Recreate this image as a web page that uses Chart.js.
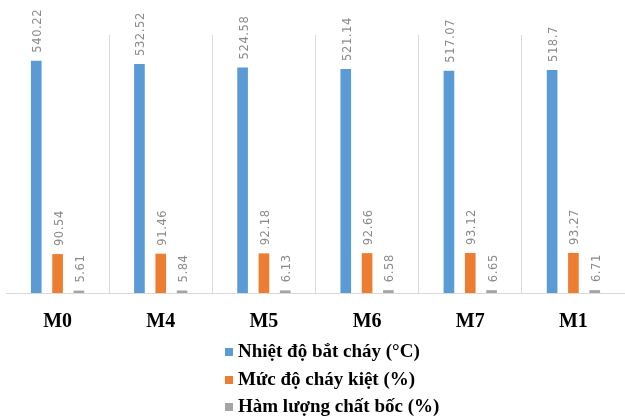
<!DOCTYPE html>
<html>
<head>
<meta charset="utf-8">
<style>
  html, body { margin: 0; padding: 0; background: #ffffff; }
  #wrap { width: 625px; height: 418px; position: relative; }
</style>
<script src="https://cdn.jsdelivr.net/npm/chart.js@4/dist/chart.umd.min.js"></script>
</head>
<body>
<div id="wrap"><canvas id="c" width="625" height="418"></canvas></div>
<script>
// Fuel samples and measured properties
const categories = ['M0', 'M4', 'M5', 'M6', 'M7', 'M1'];
const ignitionTemp = [540.22, 532.52, 524.58, 521.14, 517.07, 518.7];
const burnoutLevel = [90.54, 91.46, 92.18, 92.66, 93.12, 93.27];
const volatileMatter = [5.61, 5.84, 6.13, 6.58, 6.65, 6.71];
const seriesNames = ['Nhiệt độ bắt cháy (°C)', 'Mức độ cháy kiệt (%)', 'Hàm lượng chất bốc (%)'];
const seriesColors = ['#5B9BD5', '#ED7D31', '#A5A5A5'];

// Vertical value labels above each bar
const valueLabels = {
  id: 'valueLabels',
  afterDatasetsDraw(chart) {
    const ctx = chart.ctx;
    ctx.save();
    ctx.font = '11.5px "DejaVu Sans", sans-serif';
    ctx.fillStyle = '#8a8a8a';
    ctx.textAlign = 'left';
    ctx.textBaseline = 'middle';
    if ('letterSpacing' in ctx) ctx.letterSpacing = '0.6px';
    chart.data.datasets.forEach((ds, di) => {
      chart.getDatasetMeta(di).data.forEach((bar, i) => {
        ctx.save();
        ctx.translate(bar.x + 2, bar.y - 8);
        ctx.rotate(-Math.PI / 2);
        ctx.fillText(String(ds.data[i]), 0, 0);
        ctx.restore();
      });
    });
    ctx.restore();
  }
};

// Legend stacked one entry per line under the axis
const stackedLegend = {
  id: 'stackedLegend',
  afterDraw(chart) {
    const ctx = chart.ctx;
    const rowsY = [352, 380, 407];
    ctx.save();
    ctx.font = 'bold 19px "Liberation Serif", "Times New Roman", serif';
    ctx.textAlign = 'left';
    ctx.textBaseline = 'middle';
    chart.data.datasets.forEach((ds, i) => {
      const y = rowsY[i];
      ctx.fillStyle = ds.backgroundColor;
      ctx.fillRect(225, y - 4, 8, 8);
      ctx.fillStyle = '#000000';
      ctx.fillText(ds.label, 238, y);
    });
    ctx.restore();
  }
};

new Chart(document.getElementById('c'), {
  type: 'bar',
  data: {
    labels: categories,
    datasets: [
      { label: seriesNames[0], data: ignitionTemp, backgroundColor: seriesColors[0] },
      { label: seriesNames[1], data: burnoutLevel, backgroundColor: seriesColors[1] },
      { label: seriesNames[2], data: volatileMatter, backgroundColor: seriesColors[2] }
    ]
  },
  options: {
    responsive: false,
    animation: false,
    devicePixelRatio: 1,
    layout: { padding: { top: 35, left: 6, right: 0, bottom: 67 } },
    datasets: { bar: { categoryPercentage: 0.62, barPercentage: 0.5 } },
    plugins: {
      legend: { display: false },
      tooltip: { enabled: false }
    },
    scales: {
      x: {
        grid: {
          offset: true,
          drawTicks: false,
          color: (c) => (c.index === 0 || c.index === categories.length) ? 'rgba(0,0,0,0)' : '#d9d9d9',
          lineWidth: 1
        },
        border: { display: true, color: '#d9d9d9' },
        ticks: {
          padding: 17,
          color: '#000000',
          font: { family: '"Liberation Serif", "Times New Roman", serif', size: 20, weight: 'bold' }
        }
      },
      y: {
        display: false,
        min: 0,
        max: 600
      }
    }
  },
  plugins: [valueLabels, stackedLegend]
});
</script>
</body>
</html>
